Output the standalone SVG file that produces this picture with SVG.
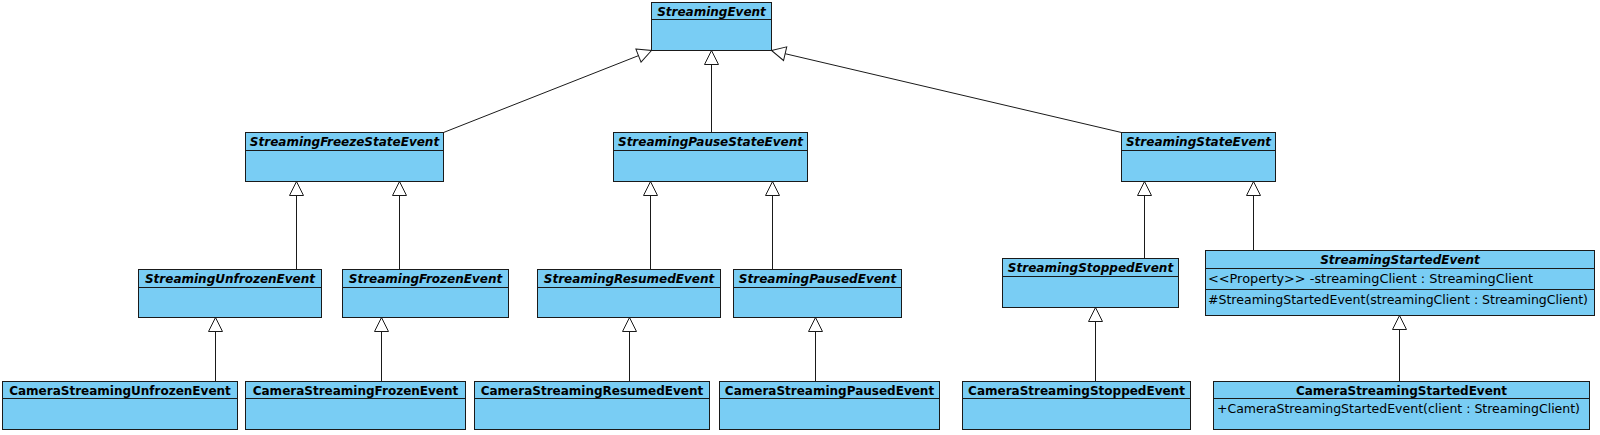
<svg xmlns="http://www.w3.org/2000/svg" width="1600" height="435" viewBox="0 0 1600 435">
<style>
.box{fill:#79CDF4;stroke:#1a1a1a;stroke-width:1}
.div{stroke:#1a1a1a;stroke-width:1}
.abs{font-family:"DejaVu Sans",sans-serif;font-size:12px;font-weight:bold;font-style:italic;fill:#000;text-anchor:middle}
.con{font-family:"DejaVu Sans",sans-serif;font-size:12px;font-weight:bold;fill:#000;text-anchor:middle}
.mem{font-family:"DejaVu Sans",sans-serif;font-size:12.5px;fill:#000}
.edge{stroke:#1a1a1a;stroke-width:1;fill:none;marker-end:url(#gen)}
</style>
<defs>
<marker id="gen" markerUnits="userSpaceOnUse" markerWidth="16" markerHeight="16" viewBox="0 0 16 16" refX="15" refY="8" orient="auto">
<path d="M1,1 L15,8 L1,15 Z" fill="#fff" stroke="#1a1a1a" stroke-width="1"/>
</marker>
</defs>
<rect width="1600" height="435" fill="#fff"/>
<g id="connectors">
<line class="edge" x1="443.5" y1="132.5" x2="651.5" y2="50.5"/>
<line class="edge" x1="711.5" y1="132.5" x2="711.5" y2="50.5"/>
<line class="edge" x1="1121.5" y1="132.5" x2="771.5" y2="50.5"/>
<line class="edge" x1="296.5" y1="269.5" x2="296.5" y2="181.5"/>
<line class="edge" x1="399.5" y1="269.5" x2="399.5" y2="181.5"/>
<line class="edge" x1="650.5" y1="269.5" x2="650.5" y2="181.5"/>
<line class="edge" x1="772.5" y1="269.5" x2="772.5" y2="181.5"/>
<line class="edge" x1="1144.5" y1="258.5" x2="1144.5" y2="181.5"/>
<line class="edge" x1="1253.5" y1="250.5" x2="1253.5" y2="181.5"/>
<line class="edge" x1="215.5" y1="381.5" x2="215.5" y2="317.5"/>
<line class="edge" x1="381.5" y1="381.5" x2="381.5" y2="317.5"/>
<line class="edge" x1="629.5" y1="381.5" x2="629.5" y2="317.5"/>
<line class="edge" x1="815.5" y1="381.5" x2="815.5" y2="317.5"/>
<line class="edge" x1="1095.5" y1="381.5" x2="1095.5" y2="307.5"/>
<line class="edge" x1="1399.5" y1="381.5" x2="1399.5" y2="315.5"/>
</g>
<g id="StreamingEvent">
<rect class="box" x="651.5" y="2.5" width="120" height="48"/>
<line class="div" x1="651.5" y1="19.5" x2="771.5" y2="19.5"/>
<text class="abs" x="711.5" y="15.5">StreamingEvent</text>
</g>
<g id="StreamingFreezeStateEvent">
<rect class="box" x="245.5" y="132.5" width="198" height="49"/>
<line class="div" x1="245.5" y1="150.5" x2="443.5" y2="150.5"/>
<text class="abs" x="344.5" y="145.5">StreamingFreezeStateEvent</text>
</g>
<g id="StreamingPauseStateEvent">
<rect class="box" x="613.5" y="132.5" width="194" height="49"/>
<line class="div" x1="613.5" y1="150.5" x2="807.5" y2="150.5"/>
<text class="abs" x="710.5" y="145.5">StreamingPauseStateEvent</text>
</g>
<g id="StreamingStateEvent">
<rect class="box" x="1121.5" y="132.5" width="154" height="49"/>
<line class="div" x1="1121.5" y1="150.5" x2="1275.5" y2="150.5"/>
<text class="abs" x="1198.5" y="145.5">StreamingStateEvent</text>
</g>
<g id="StreamingUnfrozenEvent">
<rect class="box" x="138.5" y="269.5" width="183" height="48"/>
<line class="div" x1="138.5" y1="287.5" x2="321.5" y2="287.5"/>
<text class="abs" x="230" y="282.5">StreamingUnfrozenEvent</text>
</g>
<g id="StreamingFrozenEvent">
<rect class="box" x="342.5" y="269.5" width="166" height="48"/>
<line class="div" x1="342.5" y1="287.5" x2="508.5" y2="287.5"/>
<text class="abs" x="425.5" y="282.5">StreamingFrozenEvent</text>
</g>
<g id="StreamingResumedEvent">
<rect class="box" x="537.5" y="269.5" width="183" height="48"/>
<line class="div" x1="537.5" y1="287.5" x2="720.5" y2="287.5"/>
<text class="abs" x="629" y="282.5">StreamingResumedEvent</text>
</g>
<g id="StreamingPausedEvent">
<rect class="box" x="733.5" y="269.5" width="168" height="48"/>
<line class="div" x1="733.5" y1="287.5" x2="901.5" y2="287.5"/>
<text class="abs" x="817.5" y="282.5">StreamingPausedEvent</text>
</g>
<g id="StreamingStoppedEvent">
<rect class="box" x="1002.5" y="258.5" width="176" height="49"/>
<line class="div" x1="1002.5" y1="276.5" x2="1178.5" y2="276.5"/>
<text class="abs" x="1090.5" y="271.5">StreamingStoppedEvent</text>
</g>
<g id="StreamingStartedEvent">
<rect class="box" x="1205.5" y="250.5" width="389" height="65"/>
<line class="div" x1="1205.5" y1="268.5" x2="1594.5" y2="268.5"/>
<line class="div" x1="1205.5" y1="289.5" x2="1594.5" y2="289.5"/>
<text class="abs" x="1400" y="263.5">StreamingStartedEvent</text>
<text class="mem" x="1208" y="283" textLength="325" lengthAdjust="spacingAndGlyphs">&lt;&lt;Property&gt;&gt; -streamingClient : StreamingClient</text>
<text class="mem" x="1208" y="304" textLength="380" lengthAdjust="spacingAndGlyphs">#StreamingStartedEvent(streamingClient : StreamingClient)</text>
</g>
<g id="CameraStreamingUnfrozenEvent">
<rect class="box" x="2.5" y="381.5" width="235" height="48"/>
<line class="div" x1="2.5" y1="398.5" x2="237.5" y2="398.5"/>
<text class="con" x="120" y="394.5">CameraStreamingUnfrozenEvent</text>
</g>
<g id="CameraStreamingFrozenEvent">
<rect class="box" x="245.5" y="381.5" width="220" height="48"/>
<line class="div" x1="245.5" y1="398.5" x2="465.5" y2="398.5"/>
<text class="con" x="355.5" y="394.5">CameraStreamingFrozenEvent</text>
</g>
<g id="CameraStreamingResumedEvent">
<rect class="box" x="474.5" y="381.5" width="235" height="48"/>
<line class="div" x1="474.5" y1="398.5" x2="709.5" y2="398.5"/>
<text class="con" x="592" y="394.5">CameraStreamingResumedEvent</text>
</g>
<g id="CameraStreamingPausedEvent">
<rect class="box" x="719.5" y="381.5" width="220" height="48"/>
<line class="div" x1="719.5" y1="398.5" x2="939.5" y2="398.5"/>
<text class="con" x="829.5" y="394.5">CameraStreamingPausedEvent</text>
</g>
<g id="CameraStreamingStoppedEvent">
<rect class="box" x="962.5" y="381.5" width="228" height="48"/>
<line class="div" x1="962.5" y1="398.5" x2="1190.5" y2="398.5"/>
<text class="con" x="1076.5" y="394.5">CameraStreamingStoppedEvent</text>
</g>
<g id="CameraStreamingStartedEvent">
<rect class="box" x="1213.5" y="381.5" width="376" height="48"/>
<line class="div" x1="1213.5" y1="398.5" x2="1589.5" y2="398.5"/>
<text class="con" x="1401.5" y="394.5">CameraStreamingStartedEvent</text>
<text class="mem" x="1217" y="413" textLength="363" lengthAdjust="spacingAndGlyphs">+CameraStreamingStartedEvent(client : StreamingClient)</text>
</g>
</svg>
